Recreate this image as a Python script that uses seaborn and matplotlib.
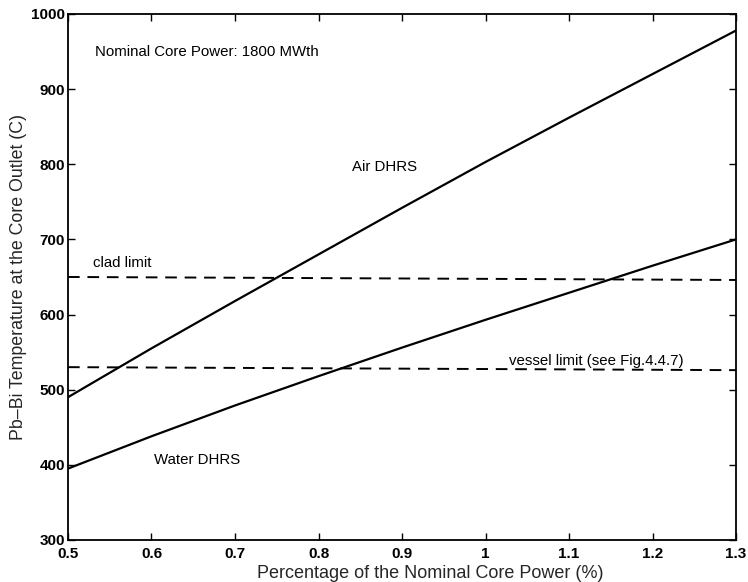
import matplotlib
matplotlib.use("Agg")
import matplotlib.pyplot as plt
import seaborn as sns
import pandas as pd

# Fraction of nominal core power and outlet temperatures (C)
power = [0.5, 0.6, 0.7, 0.8, 0.9, 1.0, 1.1, 1.2, 1.3]
air_dhrs = [490, 555, 618, 680, 742, 803, 862, 920, 978]
water_dhrs = [395, 438, 479, 518, 556, 593, 629, 665, 700]

limit_x = [0.5, 1.3]
clad_limit = [650, 646]
vessel_limit = [530, 526]

xticks = [0.5, 0.6, 0.7, 0.8, 0.9, 1.0, 1.1, 1.2, 1.3]
xtick_labels = ["0.5", "0.6", "0.7", "0.8", "0.9", "1", "1.1", "1.2", "1.3"]
yticks = [300, 400, 500, 600, 700, 800, 900, 1000]

sns.set_style("ticks")
plt.rcParams["font.family"] = ["Liberation Sans", "DejaVu Sans"]

fig = plt.figure(figsize=(7.48, 5.82), dpi=100)
ax = fig.add_axes([0.0909, 0.0722, 0.8931, 0.9038])

curves = pd.DataFrame({"power": power, "air": air_dhrs, "water": water_dhrs})
limits = pd.DataFrame({"x": limit_x, "clad": clad_limit, "vessel": vessel_limit})

sns.lineplot(data=curves, x="power", y="air", ax=ax, color="black", lw=1.6)
sns.lineplot(data=curves, x="power", y="water", ax=ax, color="black", lw=1.6)
sns.lineplot(data=limits, x="x", y="clad", ax=ax, color="black", lw=1.4,
             dashes=False, linestyle=(0, (6, 4)))
sns.lineplot(data=limits, x="x", y="vessel", ax=ax, color="black", lw=1.4,
             dashes=False, linestyle=(0, (6, 4)))

ax.set_xlim(0.5, 1.3)
ax.set_ylim(300, 1000)
ax.set_xticks(xticks)
ax.set_xticklabels(xtick_labels)
ax.set_yticks(yticks)
ax.tick_params(direction="in", top=True, right=True, length=5, width=1,
               labelsize=11, colors="black")
ax.tick_params(axis="x", pad=5)
ax.tick_params(axis="y", pad=2)
for lab in ax.get_xticklabels() + ax.get_yticklabels():
    lab.set_fontweight("bold")
for sp in ax.spines.values():
    sp.set_linewidth(1.3)
    sp.set_color("black")

ax.set_xlabel("Percentage of the Nominal Core Power (%)", fontsize=13)
ax.xaxis.set_label_coords(0.542, -0.048, transform=ax.transAxes)
ax.xaxis.label.set_va("top")
ax.set_ylabel("Pb\u2013Bi Temperature at the Core Outlet (C)", fontsize=12.8, labelpad=3)

txt = dict(fontsize=10.8, color="black", va="center", ha="left")
ax.text(0.532, 950, "Nominal Core Power: 1800 MWth", **txt)
ax.text(0.840, 797, "Air DHRS", **txt)
ax.text(0.530, 669, "clad limit", **txt)
ax.text(1.028, 538, "vessel limit (see Fig.4.4.7)", **txt)
ax.text(0.603, 407, "Water DHRS", **txt)

fig.savefig("out.png", dpi=100, facecolor="white")
